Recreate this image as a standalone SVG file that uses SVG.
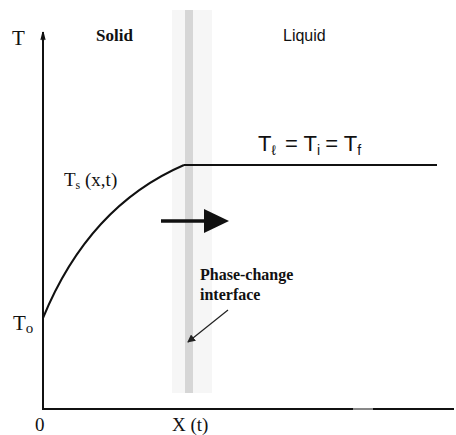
<svg xmlns="http://www.w3.org/2000/svg" width="456" height="435" viewBox="0 0 456 435">
<defs>
<style>
.t{font-family:"Liberation Serif","Times New Roman",serif;fill:#111}
.s{font-family:"Liberation Sans",Arial,sans-serif;fill:#111}
.ax{stroke:#111;stroke-width:2;fill:none}
</style>
<marker id="ah" markerWidth="8" markerHeight="8" refX="7" refY="4" orient="auto" markerUnits="userSpaceOnUse">
<path d="M0,0 L8,4 L0,8 Z" fill="#222"/>
</marker>
</defs>
<rect width="456" height="435" fill="#fff"/>
<g id="interface">
<rect x="172" y="10" width="40" height="383" fill="#f6f6f6"/>
<rect x="185" y="10" width="8" height="383" fill="#d6d6d6"/>
</g>
<g id="axes">
<path class="ax" d="M43,409 L43,32"/>
<path d="M43,32 L41,40 M43,32 L45,40" stroke="#111" stroke-width="1.2"/>
<path class="ax" d="M42,409 L353,409"/>
<path d="M353,409 L373,409" stroke="#111" stroke-width="1"/>
<path class="ax" d="M373,409 L454,409"/>
<text class="t" x="12" y="45" font-size="21">T</text>
<text class="t" x="35" y="431" font-size="19">0</text>
<text class="t" x="172" y="431" font-size="19">X (t)</text>
</g>
<g id="labels">
<text class="t" x="96" y="41" font-size="17" font-weight="bold">Solid</text>
<text class="s" x="283" y="41" font-size="16">Liquid</text>
<text class="t" x="13" y="330" font-size="21">T<tspan font-size="15" dy="3">o</tspan></text>
</g>
<g id="solid-curve">
<path class="ax" stroke-width="1.6" d="M43,318 Q89,206 184,165"/>
<text class="t" x="64" y="186" font-size="19">T<tspan font-size="12" dy="3">s</tspan><tspan dy="-3"> (x,t)</tspan></text>
</g>
<g id="liquid-line">
<path class="ax" d="M184,165 L437,165"/>
<text class="s" x="258" y="151" font-size="22">T<tspan font-size="14" dy="4">ℓ</tspan><tspan dy="-4" dx="9">= T</tspan><tspan font-size="14" dy="4">i</tspan><tspan dy="-4" dx="5">= T</tspan><tspan font-size="14" dy="4">f</tspan></text>
</g>
<g id="motion-arrow">
<path d="M161,221 L207,221" stroke="#111" stroke-width="3.5"/>
<path d="M204,209 L229,221 L204,233 Z" fill="#111"/>
</g>
<g id="interface-label">
<text class="t" x="200" y="280" font-size="16" font-weight="bold">Phase-change</text>
<text class="t" x="200" y="300" font-size="16" font-weight="bold">interface</text>
</g>
<g id="connectors">
<path d="M228,310 L188,342" stroke="#222" stroke-width="1.2" marker-end="url(#ah)"/>
</g>
</svg>
